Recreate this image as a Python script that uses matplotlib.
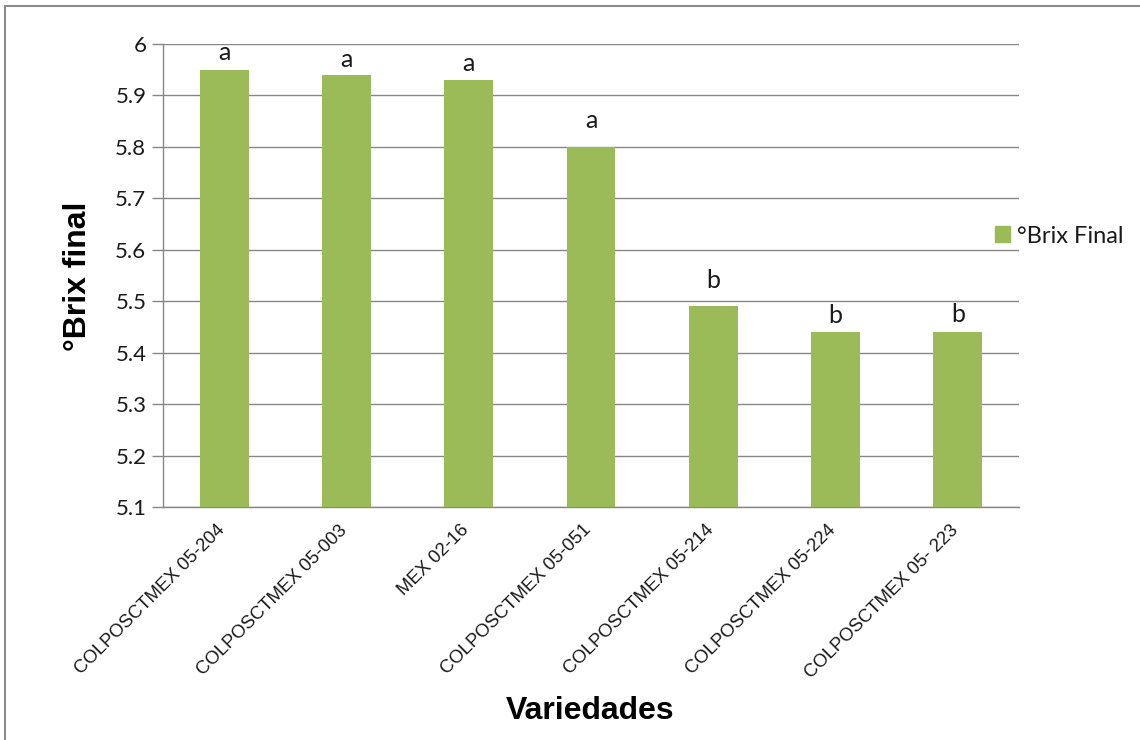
import matplotlib.pyplot as plt
from matplotlib.lines import Line2D
from matplotlib.patches import Patch
import matplotlib.transforms as mtransforms

variedades = ['COLPOSCTMEX 05-204', 'COLPOSCTMEX 05-003', 'MEX 02-16',
              'COLPOSCTMEX 05-051', 'COLPOSCTMEX 05-214', 'COLPOSCTMEX 05-224',
              'COLPOSCTMEX 05- 223']
brix_final = [5.95, 5.94, 5.93, 5.80, 5.49, 5.44, 5.44]
letras = ['a', 'a', 'a', 'a', 'b', 'b', 'b']
y_ticks = [5.1, 5.2, 5.3, 5.4, 5.5, 5.6, 5.7, 5.8, 5.9, 6.0]
y_tick_labels = ['5.1', '5.2', '5.3', '5.4', '5.5', '5.6', '5.7', '5.8', '5.9', '6']

verde = '#9BBB59'
gris = '#878787'
texto = '#1a1a1a'
# separación (pt) de cada letra sobre su barra
sep_letras = [7, 6, 6.5, 13.5, 13.5, 6.5, 7]

fig = plt.figure(figsize=(11.4, 7.4), dpi=100)
ax = fig.add_axes([163 / 1140, 1 - 507 / 740, 856 / 1140, 463 / 740])

x = range(len(variedades))
ax.bar(x, brix_final, width=0.4, color=verde, zorder=3)
ax.set_xlim(-0.5, len(variedades) - 0.5)
ax.set_ylim(5.1, 6.0)

# letras de significancia sobre cada barra
for xi, v, l, d in zip(x, brix_final, letras, sep_letras):
    ax.annotate(l, (xi, v), xytext=(0, d), textcoords='offset points',
                ha='center', va='baseline', fontsize=18, family='Lato', color=texto)

ax.set_yticks(y_ticks)
ax.set_yticklabels(y_tick_labels, family='Lato', fontsize=16, color=texto)
ax.yaxis.grid(True, color=gris, linewidth=1, zorder=0)
ax.tick_params(axis='y', length=8, width=1, color=gris, pad=4)

ax.set_xticks(list(x))
ax.set_xticklabels(variedades, rotation=45, ha='right', va='top',
                   family='Liberation Sans', fontsize=13.3, color=texto)
ax.tick_params(axis='x', length=0, pad=10.5)
shift = mtransforms.ScaledTranslation(0.04, 0, fig.dpi_scale_trans)
for lab in ax.get_xticklabels():
    lab.set_transform(lab.get_transform() + shift)

for s in ['top', 'right']:
    ax.spines[s].set_visible(False)
for s in ['left', 'bottom']:
    ax.spines[s].set_color(gris)
    ax.spines[s].set_linewidth(1)

fig.text(78 / 1140, 1 - 276 / 740, '°Brix final', rotation=90, ha='center', va='center',
         fontsize=23, fontweight='bold', family='Liberation Sans')
fig.text(590 / 1140, 1 - 711 / 740, 'Variedades', ha='center', va='center',
         fontsize=23, fontweight='bold', family='Liberation Sans')

fig.legend(handles=[Patch(color=verde, label='°Brix Final')], loc='center left',
           bbox_to_anchor=(995 / 1140, 1 - 236 / 740), frameon=False,
           prop={'family': 'Lato', 'size': 17}, handlelength=0.65, handleheight=0.65,
           handletextpad=0.3, borderpad=0, borderaxespad=0, labelcolor=texto)

# marco gris izquierdo y superior
fig.add_artist(Line2D([5 / 1140, 5 / 1140], [0, 1 - 6 / 740], color='#8c8c8c', linewidth=1.5))
fig.add_artist(Line2D([5 / 1140, 1], [1 - 6 / 740, 1 - 6 / 740], color='#8c8c8c', linewidth=1.5))

fig.savefig('out.png', dpi=100)
